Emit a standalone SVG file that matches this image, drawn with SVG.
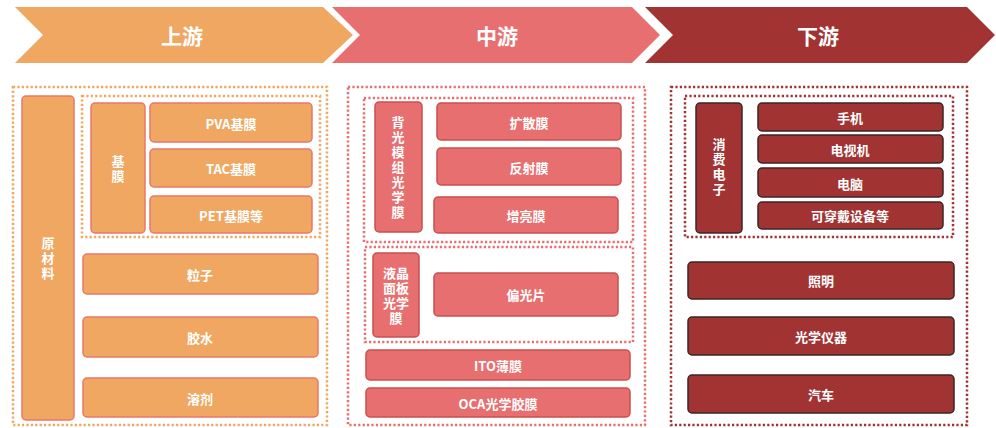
<svg xmlns="http://www.w3.org/2000/svg" width="996" height="428" viewBox="0 0 996 428">
<style>
text{font-family:"Noto Sans CJK SC","Liberation Sans",sans-serif;font-weight:bold;fill:#fff;text-anchor:middle;dominant-baseline:central}
.h{font-size:21px}
.t{font-size:13px}
.v{writing-mode:vertical-rl;letter-spacing:2px}
.o{fill:#EFA762;stroke:#E9786A;stroke-width:1.5}
.p{fill:#E86F6F;stroke:#C9504F;stroke-width:1.5}
.r{fill:#A13333;stroke:#3B2626;stroke-width:1.5}
.do{fill:none;stroke:#EFA762;stroke-width:2.5;stroke-dasharray:2.2 2.2}
.dp{fill:none;stroke:#E86F6F;stroke-width:2.5;stroke-dasharray:2.2 2.2}
.dr{fill:none;stroke:#A13333;stroke-width:2.5;stroke-dasharray:2.2 2.2}
</style>
<rect width="996" height="428" fill="#fff"/>
<g id="header-up">
<polygon points="15,7 323,7 353,35 323,63 15,63 43,35" fill="#EFA762"/>
<text class="h" x="182" y="35">上游</text>
</g>
<g id="header-mid">
<polygon points="332,7 632,7 660,35 632,63 332,63 360,35" fill="#E86F6F"/>
<text class="h" x="497" y="35">中游</text>
</g>
<g id="header-down">
<polygon points="645,7 967,7 995,35 967,63 645,63 673,35" fill="#A13333"/>
<text class="h" x="818" y="35">下游</text>
</g>
<g id="frames">
<rect class="do" x="13" y="87" width="314" height="338"/>
<rect class="do" x="82" y="96" width="238" height="141"/>
<rect class="dp" x="348" y="87" width="297" height="338"/>
<rect class="dp" x="364" y="98" width="269" height="144"/>
<rect class="dp" x="365" y="247" width="268" height="95"/>
<rect class="dr" x="671" y="87" width="296" height="338"/>
<rect class="dr" x="685" y="96" width="268" height="141"/>
</g>
<g id="n-yuancailiao"><rect class="o" x="22" y="96" width="52" height="324" rx="4"/>
<text class="t v" x="48" y="259">原材料</text></g>
<g id="n-jimo"><rect class="o" x="91" y="103" width="54" height="130" rx="4"/>
<text class="t v" x="118" y="170">基膜</text></g>
<g id="n-pva"><rect class="o" x="150" y="103" width="162" height="39" rx="4"/><text class="t" x="231" y="123">PVA基膜</text></g>
<g id="n-tac"><rect class="o" x="150" y="149" width="162" height="38" rx="4"/><text class="t" x="231" y="168">TAC基膜</text></g>
<g id="n-pet"><rect class="o" x="150" y="196" width="162" height="37" rx="4"/><text class="t" x="231" y="215">PET基膜等</text></g>
<g id="n-lizi"><rect class="o" x="83" y="254" width="235" height="40" rx="4"/><text class="t" x="200" y="274">粒子</text></g>
<g id="n-jiaoshui"><rect class="o" x="83" y="317" width="235" height="40" rx="4"/><text class="t" x="200" y="337">胶水</text></g>
<g id="n-rongji"><rect class="o" x="83" y="378" width="235" height="39" rx="4"/><text class="t" x="200" y="398">溶剂</text></g>

<g id="n-beiguang"><rect class="p" x="375" y="102" width="47" height="130" rx="4"/>
<text class="t v" x="398" y="168">背光模组光学膜</text></g>
<g id="n-kuosan"><rect class="p" x="437" y="103" width="184" height="37" rx="4"/><text class="t" x="529" y="122">扩散膜</text></g>
<g id="n-fanshe"><rect class="p" x="437" y="148" width="184" height="37" rx="4"/><text class="t" x="529" y="167">反射膜</text></g>
<g id="n-zengliang"><rect class="p" x="434" y="197" width="184" height="36" rx="4"/><text class="t" x="526" y="215">增亮膜</text></g>
<g id="n-yejing"><rect class="p" x="373" y="253" width="46" height="84" rx="4"/>
<text class="t" x="396" y="272"><tspan x="396">液晶</tspan><tspan x="396" dy="15">面板</tspan><tspan x="396" dy="15">光学</tspan><tspan x="396" dy="15">膜</tspan></text></g>
<g id="n-pianguang"><rect class="p" x="434" y="273" width="184" height="43" rx="4"/><text class="t" x="526" y="294">偏光片</text></g>
<g id="n-ito"><rect class="p" x="366" y="350" width="264" height="30" rx="4"/><text class="t" x="498" y="365">ITO薄膜</text></g>
<g id="n-oca"><rect class="p" x="366" y="388" width="264" height="29" rx="4"/><text class="t" x="498" y="403">OCA光学胶膜</text></g>

<g id="n-xiaofei"><rect class="r" x="696" y="103" width="46" height="130" rx="4"/>
<text class="t v" x="719" y="168">消费电子</text></g>
<g id="n-shouji"><rect class="r" x="758" y="103" width="185" height="28" rx="4"/><text class="t" x="850" y="117">手机</text></g>
<g id="n-dianshi"><rect class="r" x="758" y="135" width="185" height="28" rx="4"/><text class="t" x="850" y="149">电视机</text></g>
<g id="n-diannao"><rect class="r" x="758" y="168" width="185" height="29" rx="4"/><text class="t" x="850" y="183">电脑</text></g>
<g id="n-kechuan"><rect class="r" x="758" y="202" width="185" height="27" rx="4"/><text class="t" x="850" y="215">可穿戴设备等</text></g>
<g id="n-zhaoming"><rect class="r" x="688" y="262" width="266" height="37" rx="4"/><text class="t" x="821" y="280">照明</text></g>
<g id="n-yiqi"><rect class="r" x="688" y="317" width="266" height="38" rx="4"/><text class="t" x="821" y="336">光学仪器</text></g>
<g id="n-qiche"><rect class="r" x="688" y="375" width="266" height="38" rx="4"/><text class="t" x="821" y="394">汽车</text></g>
<g id="connectors"/>
</svg>
